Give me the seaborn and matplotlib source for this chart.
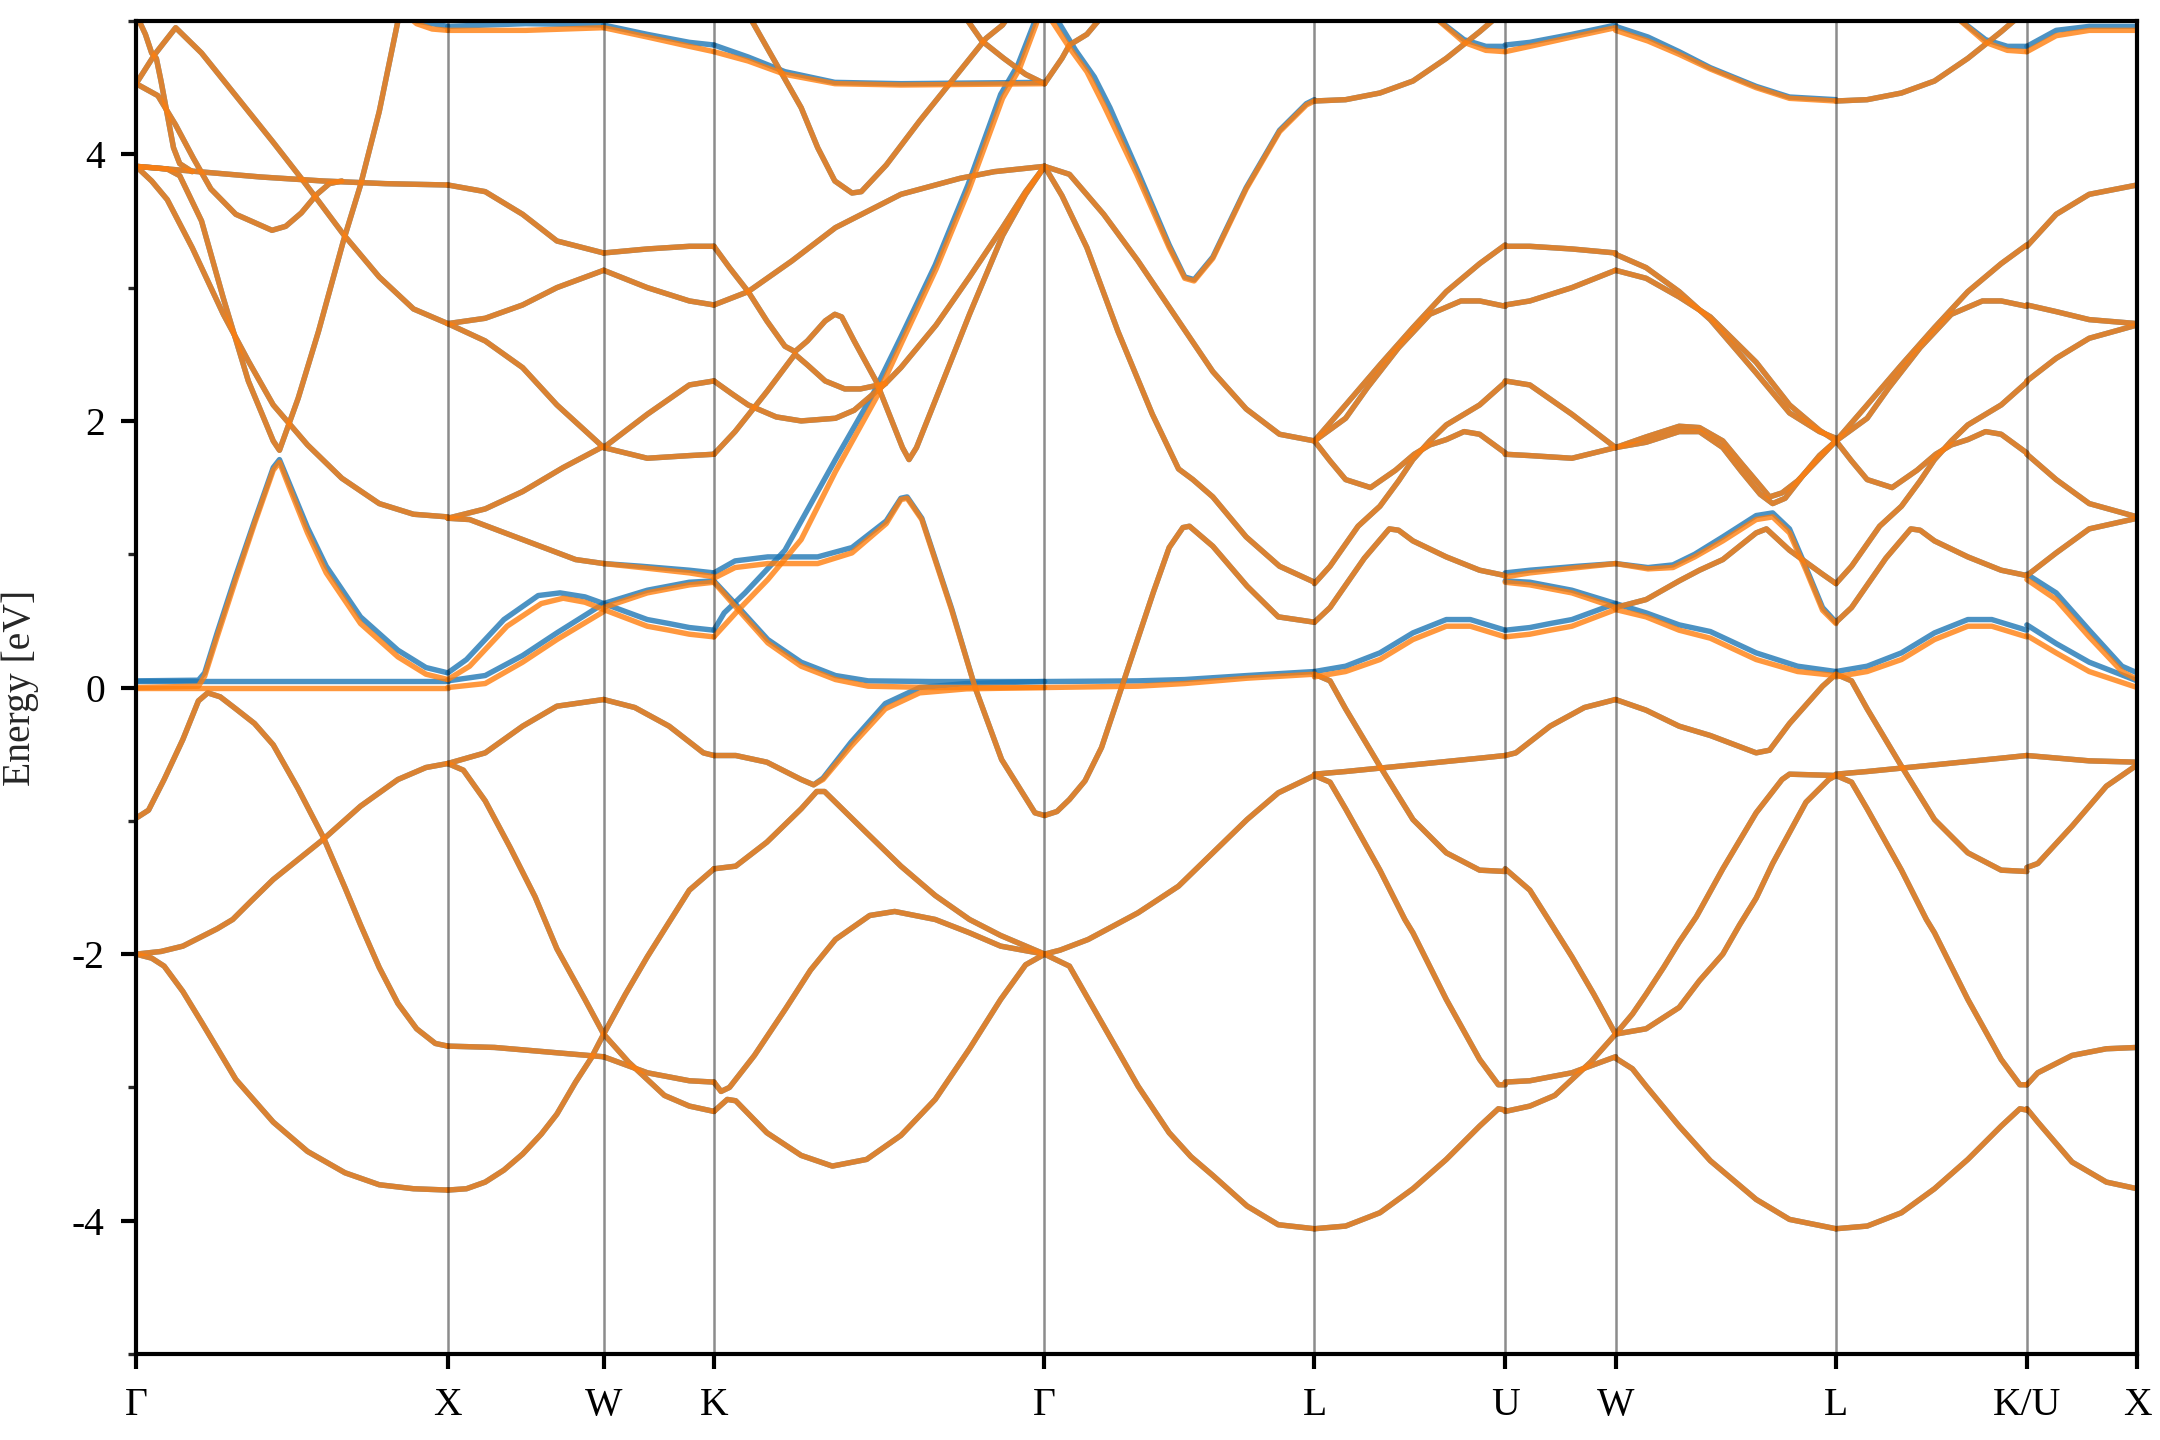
import matplotlib
matplotlib.use("Agg")
import matplotlib.pyplot as plt
import pandas as pd
import seaborn as sns

# high-symmetry points of the fcc path
kpath_labels = ["Γ", "X", "W", "K", "Γ", "L", "U", "W", "L", "K/U", "X"]
kpath_ticks = [0.0, 1.0, 1.5, 1.8536, 2.9142, 3.7802, 4.3926, 4.7462, 5.4533, 6.0657, 6.4193]

# bands per segment, (k offset from segment start, energy in eV), spin down (orange)
# blue dicts hold the spin-up bands that visibly differ
GX = {
    "c1": [(0, -2.0), (0.05, -2.03), (0.09, -2.09), (0.15, -2.28), (0.21, -2.51), (0.32, -2.94), (0.44, -3.26),
           (0.55, -3.48), (0.67, -3.64), (0.78, -3.73), (0.89, -3.76), (1.0, -3.77)],
    "c2": [(0, -2.0), (0.08, -1.98), (0.15, -1.94), (0.26, -1.81), (0.31, -1.74), (0.37, -1.6),
           (0.44, -1.44), (0.52, -1.29), (0.6, -1.14), (0.72, -0.89), (0.84, -0.69), (0.93, -0.6), (1.0, -0.57)],
    "c3": [(0, -0.98), (0.04, -0.92), (0.09, -0.69), (0.15, -0.39), (0.2, -0.1), (0.23, -0.04),
           (0.27, -0.07), (0.32, -0.16), (0.38, -0.27), (0.44, -0.43), (0.52, -0.76), (0.6, -1.12),
           (0.67, -1.5), (0.72, -1.78), (0.78, -2.1), (0.84, -2.37), (0.9, -2.56), (0.96, -2.67), (1.0, -2.69)],
    "flat": [(0, 0.0), (0.5, 0.0), (1.0, 0.0)],
    "c5": [(0, 0.0), (0.2, 0.01), (0.22, 0.085), (0.26, 0.38), (0.32, 0.81), (0.38, 1.23), (0.44, 1.63),
           (0.46, 1.69), (0.49, 1.51), (0.55, 1.16), (0.61, 0.86), (0.72, 0.48), (0.84, 0.23), (0.93, 0.1), (1.0, 0.06)],
    "c6": [(0, 3.91), (0.1, 3.89), (0.14, 3.84), (0.21, 3.5), (0.28, 2.92), (0.36, 2.3), (0.44, 1.85),
           (0.46, 1.78), (0.52, 2.17), (0.585, 2.67), (0.665, 3.35), (0.72, 3.77), (0.78, 4.32), (0.84, 5.0), (0.86, 5.15)],
    "l7": [(0, 3.91), (0.05, 3.8), (0.1, 3.66), (0.18, 3.3), (0.28, 2.8), (0.36, 2.45), (0.44, 2.12),
           (0.55, 1.82), (0.66, 1.57), (0.78, 1.38), (0.89, 1.3), (1.0, 1.28)],
    "l8": [(0, 4.53), (0.06, 4.75), (0.127, 4.95), (0.21, 4.76), (0.32, 4.44), (0.44, 4.09), (0.53, 3.82),
           (0.585, 3.65), (0.665, 3.4), (0.78, 3.08), (0.89, 2.84), (1.0, 2.73)],
    "l9": [(0, 4.53), (0.07, 4.44), (0.127, 4.22), (0.184, 3.97), (0.24, 3.74), (0.32, 3.55), (0.436, 3.43),
           (0.48, 3.46), (0.53, 3.56), (0.58, 3.7), (0.62, 3.78), (0.66, 3.8)],
    "l10": [(0, 3.91), (0.2, 3.87), (0.4, 3.83), (0.6, 3.8), (0.8, 3.78), (1.0, 3.77)],
    "l11": [(0, 5.05), (0.03, 4.9), (0.05, 4.76), (0.065, 4.72), (0.08, 4.55), (0.1, 4.3), (0.12, 4.05),
            (0.14, 3.93), (0.18, 3.87)],
    "t1": [(0.84, 5.1), (0.9, 4.98), (0.95, 4.94), (1.0, 4.93)],
}
GX_BLUE = {
    "flat": [(0, 0.05), (0.5, 0.05), (1.0, 0.05)],
    "c5": [(0, 0.05), (0.2, 0.055), (0.22, 0.11), (0.26, 0.41), (0.32, 0.84), (0.38, 1.25), (0.44, 1.65),
           (0.46, 1.71), (0.49, 1.54), (0.55, 1.2), (0.61, 0.91), (0.72, 0.53), (0.84, 0.28), (0.93, 0.15), (1.0, 0.11)],
    "t1": [(0.84, 5.1), (0.9, 5.0), (1.0, 4.96)],
}

XW = {
    "c1": [(0, -3.77), (0.06, -3.76), (0.12, -3.71), (0.18, -3.62), (0.24, -3.5), (0.3, -3.35), (0.35, -3.2),
           (0.41, -2.96), (0.46, -2.78), (0.5, -2.6)],
    "c3": [(0, -2.69), (0.15, -2.7), (0.3, -2.73), (0.45, -2.76), (0.5, -2.77)],
    "c2a": [(0, -0.57), (0.05, -0.62), (0.12, -0.85), (0.2, -1.2), (0.28, -1.57), (0.35, -1.96), (0.44, -2.34), (0.5, -2.6)],
    "c2b": [(0, -0.57), (0.06, -0.53), (0.12, -0.49), (0.24, -0.29), (0.35, -0.14), (0.5, -0.09)],
    "flat": [(0, 0.0), (0.12, 0.03), (0.24, 0.19), (0.35, 0.36), (0.5, 0.57)],
    "c5": [(0, 0.06), (0.07, 0.16), (0.19, 0.46), (0.3, 0.63), (0.37, 0.67), (0.44, 0.64), (0.5, 0.585)],
    "l7a": [(0, 1.27), (0.07, 1.26), (0.24, 1.11), (0.41, 0.96), (0.5, 0.93)],
    "l7b": [(0, 1.27), (0.12, 1.34), (0.24, 1.47), (0.37, 1.65), (0.5, 1.81)],
    "l8a": [(0, 2.73), (0.12, 2.77), (0.24, 2.87), (0.35, 3.0), (0.5, 3.13)],
    "l8b": [(0, 2.73), (0.12, 2.6), (0.24, 2.4), (0.35, 2.12), (0.5, 1.8)],
    "l10": [(0, 3.77), (0.12, 3.72), (0.24, 3.55), (0.35, 3.35), (0.5, 3.26)],
    "t1": [(0, 4.93), (0.25, 4.93), (0.5, 4.95)],
}
XW_BLUE = {
    "flat": [(0, 0.05), (0.12, 0.09), (0.24, 0.24), (0.35, 0.41), (0.5, 0.63)],
    "c5": [(0, 0.11), (0.06, 0.21), (0.18, 0.51), (0.29, 0.69), (0.36, 0.71), (0.44, 0.68), (0.5, 0.63)],
    "t1": [(0, 4.96), (0.25, 4.98), (0.5, 4.97)],
}

WK = {
    "c1": [(0, -2.6), (0.08, -2.81), (0.195, -3.06), (0.275, -3.14), (0.354, -3.18)],
    "c3": [(0, -2.77), (0.14, -2.89), (0.275, -2.95), (0.354, -2.96)],
    "c2a": [(0, -2.6), (0.07, -2.3), (0.14, -2.02), (0.21, -1.76), (0.275, -1.52), (0.354, -1.36)],
    "c2b": [(0, -0.09), (0.1, -0.15), (0.21, -0.29), (0.32, -0.49), (0.354, -0.51)],
    "d": [(0, 0.585), (0.14, 0.46), (0.21, 0.43), (0.275, 0.4), (0.354, 0.38)],
    "r": [(0, 0.6), (0.14, 0.71), (0.275, 0.77), (0.354, 0.79)],
    "l7a": [(0, 0.93), (0.12, 0.9), (0.275, 0.86), (0.354, 0.83)],
    "w1": [(0, 1.8), (0.14, 1.72), (0.275, 1.74), (0.354, 1.75)],
    "w2": [(0, 1.8), (0.14, 2.05), (0.275, 2.27), (0.354, 2.3)],
    "w3": [(0, 3.13), (0.14, 3.0), (0.275, 2.9), (0.354, 2.87)],
    "l10": [(0, 3.26), (0.14, 3.29), (0.275, 3.31), (0.354, 3.31)],
    "t1": [(0, 4.95), (0.14, 4.88), (0.275, 4.81), (0.354, 4.77)],
}
WK_BLUE = {
    "d": [(0, 0.63), (0.14, 0.51), (0.21, 0.48), (0.275, 0.45), (0.354, 0.43)],
    "r": [(0, 0.63), (0.14, 0.73), (0.275, 0.79), (0.354, 0.8)],
    "l7a": [(0, 0.93), (0.12, 0.91), (0.275, 0.88), (0.354, 0.86)],
    "t1": [(0, 4.97), (0.14, 4.9), (0.275, 4.84), (0.354, 4.82)],
}

KG = {
    "c1": [(0, -3.18), (0.043, -3.09), (0.07, -3.1), (0.12, -3.22), (0.17, -3.34), (0.28, -3.51), (0.38, -3.59),
           (0.49, -3.54), (0.6, -3.36), (0.71, -3.09), (0.82, -2.71), (0.92, -2.34), (1.0, -2.08), (1.061, -2.0)],
    "c1b": [(0, -2.96), (0.023, -3.03), (0.05, -3.0), (0.13, -2.76), (0.23, -2.41), (0.31, -2.12), (0.39, -1.89),
            (0.5, -1.71), (0.58, -1.68), (0.71, -1.74), (0.82, -1.84), (0.92, -1.94), (1.061, -2.0)],
    "c2a": [(0, -1.36), (0.07, -1.34), (0.17, -1.16), (0.28, -0.91), (0.33, -0.78), (0.355, -0.78), (0.49, -1.09),
            (0.6, -1.34), (0.71, -1.56), (0.82, -1.74), (0.92, -1.86), (1.061, -2.0)],
    "c2b": [(0, -0.51), (0.07, -0.51), (0.17, -0.56), (0.28, -0.69), (0.32, -0.73), (0.35, -0.69), (0.44, -0.44),
            (0.55, -0.16), (0.66, -0.04), (0.81, -0.01), (1.061, 0.0)],
    "d": [(0, 0.38), (0.078, 0.58), (0.173, 0.81), (0.28, 1.11), (0.39, 1.62), (0.52, 2.17), (0.605, 2.6),
          (0.713, 3.14), (0.819, 3.74), (0.926, 4.42), (0.98, 4.64), (1.033, 4.97), (1.05, 5.1)],
    "r": [(0, 0.79), (0.068, 0.61), (0.173, 0.335), (0.28, 0.16), (0.39, 0.06), (0.495, 0.01), (0.7, 0.0), (1.061, 0.0)],
    "l7a": [(0, 0.82), (0.068, 0.9), (0.173, 0.93), (0.333, 0.93), (0.443, 1.01), (0.553, 1.23), (0.6, 1.41),
            (0.62, 1.42), (0.667, 1.26), (0.763, 0.58), (0.838, 0.0), (0.923, -0.54), (1.03, -0.94), (1.061, -0.96)],
    "ua": [(0, 2.3), (0.06, 2.2), (0.11, 2.12), (0.2, 2.03), (0.28, 2.0), (0.39, 2.02), (0.45, 2.08), (0.495, 2.17),
           (0.55, 2.28), (0.6, 2.4), (0.713, 2.72), (0.82, 3.08), (0.926, 3.45), (1.0, 3.72), (1.061, 3.91)],
    "ub": [(0, 1.75), (0.068, 1.92), (0.17, 2.22), (0.26, 2.5), (0.3, 2.42), (0.357, 2.3), (0.42, 2.24),
           (0.47, 2.24), (0.55, 2.28)],
    "uc": [(0, 3.31), (0.05, 3.15), (0.11, 2.97), (0.17, 2.75), (0.228, 2.56), (0.26, 2.52), (0.3, 2.6),
           (0.357, 2.75), (0.388, 2.8), (0.41, 2.78), (0.45, 2.6), (0.52, 2.3), (0.605, 1.8), (0.626, 1.71),
           (0.65, 1.8), (0.713, 2.17), (0.82, 2.8), (0.926, 3.39), (1.0, 3.7), (1.061, 3.91)],
    "u3": [(0, 2.87), (0.11, 2.97), (0.25, 3.2), (0.39, 3.45), (0.6, 3.7), (0.79, 3.82), (0.9, 3.87), (1.061, 3.91)],
    "t1": [(0, 4.77), (0.11, 4.7), (0.228, 4.6), (0.388, 4.53), (0.6, 4.52), (1.061, 4.53)],
    "tmin": [(0.11, 5.05), (0.173, 4.79), (0.28, 4.35), (0.333, 4.05), (0.388, 3.8), (0.443, 3.71), (0.473, 3.72),
             (0.553, 3.92), (0.66, 4.25), (0.763, 4.55), (0.873, 4.87), (0.926, 4.97), (0.95, 5.05)],
    "ttop": [(0.8, 5.05), (0.86, 4.85), (0.93, 4.72), (1.0, 4.6), (1.061, 4.53)],
}
KG_BLUE = {
    "c2b": [(0, -0.51), (0.07, -0.51), (0.17, -0.56), (0.28, -0.69), (0.32, -0.73), (0.35, -0.68), (0.44, -0.41),
            (0.55, -0.12), (0.66, 0.0), (0.81, 0.03), (1.061, 0.045)],
    "d": [(0, 0.43), (0.033, 0.56), (0.1, 0.71), (0.228, 1.03), (0.39, 1.71), (0.51, 2.2), (0.6, 2.63),
          (0.71, 3.17), (0.815, 3.77), (0.92, 4.45), (0.975, 4.67), (1.03, 5.0), (1.05, 5.1)],
    "r": [(0, 0.8), (0.068, 0.63), (0.173, 0.36), (0.28, 0.19), (0.39, 0.09), (0.495, 0.05), (0.7, 0.045), (1.061, 0.045)],
    "l7a": [(0, 0.86), (0.068, 0.95), (0.173, 0.98), (0.333, 0.98), (0.443, 1.05), (0.553, 1.25), (0.6, 1.42),
            (0.62, 1.43), (0.667, 1.27), (0.763, 0.59), (0.838, 0.0), (0.923, -0.54), (1.03, -0.94), (1.061, -0.96)],
    "t1": [(0, 4.82), (0.11, 4.73), (0.228, 4.62), (0.388, 4.54), (0.6, 4.53), (1.061, 4.54)],
}

GL = {
    "l1": [(0, -2.0), (0.08, -2.09), (0.19, -2.54), (0.3, -2.99), (0.4, -3.34), (0.47, -3.52), (0.54, -3.66),
           (0.65, -3.89), (0.75, -4.03), (0.866, -4.06)],
    "l3": [(0, -2.0), (0.05, -1.97), (0.14, -1.89), (0.3, -1.69), (0.43, -1.49), (0.54, -1.24), (0.65, -0.99),
           (0.75, -0.79), (0.866, -0.66)],
    "c3": [(0, -0.96), (0.04, -0.93), (0.08, -0.84), (0.13, -0.7), (0.183, -0.45), (0.226, -0.15), (0.29, 0.3),
           (0.35, 0.72), (0.4, 1.05), (0.444, 1.2), (0.465, 1.21), (0.54, 1.06), (0.65, 0.76), (0.75, 0.53), (0.866, 0.49)],
    "flat": [(0, 0.0), (0.3, 0.01), (0.45, 0.03), (0.65, 0.07), (0.866, 0.1)],
    "b": [(0, 3.91), (0.056, 3.69), (0.136, 3.3), (0.236, 2.67), (0.346, 2.05), (0.43, 1.64), (0.476, 1.56),
          (0.54, 1.43), (0.647, 1.13), (0.754, 0.91), (0.866, 0.79)],
    "a": [(0, 3.91), (0.08, 3.85), (0.19, 3.55), (0.3, 3.2), (0.43, 2.75), (0.54, 2.37), (0.647, 2.09),
          (0.754, 1.9), (0.866, 1.85)],
    "top": [(0.01, 5.05), (0.08, 4.8), (0.136, 4.62), (0.19, 4.37), (0.296, 3.85), (0.4, 3.3), (0.45, 3.07),
            (0.48, 3.05), (0.54, 3.22), (0.647, 3.74), (0.754, 4.17), (0.84, 4.37), (0.866, 4.4)],
    "g45": [(0, 4.53), (0.056, 4.72), (0.08, 4.82), (0.136, 4.9), (0.19, 5.05)],
}
GL_BLUE = {
    "flat": [(0, 0.045), (0.3, 0.05), (0.45, 0.06), (0.65, 0.09), (0.866, 0.12)],
    "top": [(0.03, 5.05), (0.1, 4.78), (0.16, 4.58), (0.21, 4.35), (0.3, 3.87), (0.4, 3.32), (0.45, 3.08),
            (0.48, 3.06), (0.54, 3.23), (0.647, 3.75), (0.754, 4.18), (0.84, 4.38), (0.866, 4.41)],
}

# L-U and L-K are equivalent directions and the picture shows the same bands on both
LU = {
    "low": [(0, -4.06), (0.1, -4.04), (0.21, -3.94), (0.316, -3.76), (0.423, -3.54), (0.53, -3.29), (0.59, -3.16), (0.612, -3.17)],
    "p": [(0, -0.65), (0.1, -0.63), (0.316, -0.58), (0.53, -0.53), (0.612, -0.51)],
    "q": [(0, -0.66), (0.05, -0.71), (0.1, -0.91), (0.21, -1.37), (0.29, -1.74), (0.316, -1.84), (0.423, -2.34),
          (0.53, -2.79), (0.59, -2.98), (0.612, -2.98)],
    "ld": [(0, 0.1), (0.05, 0.05), (0.1, -0.16), (0.21, -0.59), (0.316, -0.99), (0.423, -1.24), (0.53, -1.37), (0.612, -1.38)],
    "lu": [(0, 0.08), (0.1, 0.12), (0.21, 0.21), (0.316, 0.36), (0.423, 0.46), (0.5, 0.46), (0.612, 0.38)],
    "lg": [(0, 0.49), (0.05, 0.6), (0.16, 0.97), (0.24, 1.19), (0.27, 1.18), (0.316, 1.1), (0.423, 0.98), (0.53, 0.88), (0.612, 0.84)],
    "lb": [(0, 0.78), (0.05, 0.91), (0.14, 1.21), (0.21, 1.36), (0.27, 1.55), (0.316, 1.71), (0.37, 1.85),
           (0.423, 1.97), (0.53, 2.12), (0.612, 2.29)],
    "la": [(0, 1.85), (0.05, 1.7), (0.1, 1.56), (0.18, 1.5), (0.26, 1.63), (0.32, 1.75), (0.37, 1.82), (0.423, 1.86),
           (0.48, 1.92), (0.53, 1.9), (0.612, 1.76)],
    "lu1": [(0, 1.85), (0.1, 2.12), (0.21, 2.42), (0.316, 2.7), (0.423, 2.97), (0.53, 3.18), (0.612, 3.32)],
    "lu2": [(0, 1.85), (0.1, 2.02), (0.17, 2.25), (0.27, 2.55), (0.37, 2.8), (0.47, 2.9), (0.53, 2.9), (0.612, 2.86)],
    "top1": [(0, 4.4), (0.1, 4.41), (0.21, 4.46), (0.316, 4.55), (0.423, 4.72), (0.53, 4.92), (0.59, 5.04)],
    "top2": [(0.38, 5.04), (0.48, 4.84), (0.55, 4.78), (0.612, 4.77)],
}
LU_BLUE = {
    "lu": [(0, 0.12), (0.1, 0.16), (0.21, 0.26), (0.316, 0.41), (0.423, 0.51), (0.5, 0.51), (0.612, 0.43)],
    "top2": [(0.38, 5.04), (0.48, 4.86), (0.55, 4.81), (0.612, 4.81)],
}

WL = {
    "wd": [(0, -2.78), (0.054, -2.86), (0.098, -2.99), (0.204, -3.29), (0.304, -3.55), (0.451, -3.84), (0.558, -3.99), (0.707, -4.06)],
    "p": [(0, -2.6), (0.054, -2.45), (0.098, -2.3), (0.154, -2.1), (0.204, -1.91), (0.259, -1.72), (0.344, -1.36),
          (0.451, -0.94), (0.534, -0.69), (0.558, -0.65), (0.707, -0.66)],
    "q": [(0, -2.6), (0.098, -2.56), (0.204, -2.4), (0.269, -2.2), (0.344, -2.0), (0.398, -1.78), (0.451, -1.58),
          (0.504, -1.32), (0.611, -0.86), (0.684, -0.69), (0.707, -0.66)],
    "wm": [(0, -0.09), (0.098, -0.17), (0.204, -0.29), (0.304, -0.36), (0.451, -0.49), (0.494, -0.47), (0.558, -0.27),
           (0.664, 0.01), (0.707, 0.1)],
    "wf": [(0, 0.585), (0.098, 0.53), (0.204, 0.43), (0.304, 0.37), (0.451, 0.21), (0.584, 0.12), (0.707, 0.09)],
    "wr2": [(0, 0.6), (0.098, 0.66), (0.204, 0.8), (0.269, 0.88), (0.344, 0.96), (0.451, 1.16), (0.484, 1.19),
            (0.558, 1.03), (0.664, 0.85), (0.707, 0.78)],
    "wr1": [(0, 0.93), (0.104, 0.89), (0.184, 0.9), (0.254, 0.98), (0.344, 1.1), (0.451, 1.26), (0.504, 1.28),
            (0.558, 1.16), (0.611, 0.88), (0.664, 0.58), (0.707, 0.48)],
    "wb": [(0, 1.8), (0.098, 1.88), (0.204, 1.96), (0.269, 1.95), (0.344, 1.85), (0.404, 1.68), (0.451, 1.55),
           (0.494, 1.43), (0.534, 1.46), (0.584, 1.55), (0.654, 1.72), (0.707, 1.85)],
    "wb2": [(0, 1.8), (0.098, 1.84), (0.204, 1.92), (0.269, 1.92), (0.344, 1.8), (0.404, 1.62), (0.464, 1.45),
            (0.504, 1.38), (0.544, 1.42), (0.604, 1.6), (0.654, 1.74), (0.707, 1.85)],
    "wd1": [(0, 3.25), (0.098, 3.15), (0.204, 2.97), (0.304, 2.76), (0.451, 2.36), (0.558, 2.06), (0.654, 1.92), (0.707, 1.87)],
    "wd2": [(0, 3.13), (0.098, 3.07), (0.204, 2.93), (0.304, 2.78), (0.451, 2.44), (0.558, 2.12), (0.654, 1.93), (0.707, 1.85)],
    "top": [(0, 4.93), (0.104, 4.85), (0.204, 4.75), (0.304, 4.64), (0.451, 4.5), (0.558, 4.42), (0.707, 4.4)],
}
WL_BLUE = {
    "wf": [(0, 0.63), (0.098, 0.56), (0.204, 0.47), (0.304, 0.42), (0.451, 0.26), (0.584, 0.16), (0.707, 0.12)],
    "wr1": [(0, 0.93), (0.104, 0.9), (0.184, 0.92), (0.254, 1.0), (0.344, 1.13), (0.451, 1.29), (0.504, 1.31),
            (0.558, 1.19), (0.611, 0.9), (0.664, 0.6), (0.707, 0.49)],
    "top": [(0, 4.96), (0.104, 4.88), (0.204, 4.77), (0.304, 4.65), (0.451, 4.51), (0.558, 4.43), (0.707, 4.41)],
}

UX = {
    "low": [(0, -3.16), (0.035, -3.26), (0.145, -3.56), (0.255, -3.71), (0.354, -3.76)],
    "q": [(0, -2.98), (0.035, -2.89), (0.145, -2.76), (0.255, -2.71), (0.354, -2.7)],
    "ld": [(0, -1.35), (0.035, -1.32), (0.145, -1.04), (0.255, -0.74), (0.354, -0.58)],
    "p": [(0, -0.51), (0.2, -0.55), (0.354, -0.56)],
    "a": [(0, 0.39), (0.094, 0.26), (0.2, 0.12), (0.354, 0.0)],
    "b": [(0, 0.81), (0.094, 0.66), (0.2, 0.38), (0.305, 0.12), (0.354, 0.06)],
    "c": [(0, 0.84), (0.094, 1.01), (0.2, 1.19), (0.354, 1.27)],
    "d": [(0, 1.75), (0.094, 1.56), (0.2, 1.38), (0.354, 1.28)],
    "e": [(0, 2.3), (0.094, 2.47), (0.2, 2.62), (0.354, 2.72)],
    "f": [(0, 2.87), (0.094, 2.82), (0.2, 2.76), (0.354, 2.73)],
    "g": [(0, 3.31), (0.094, 3.55), (0.2, 3.7), (0.354, 3.77)],
    "top": [(0, 4.77), (0.094, 4.89), (0.2, 4.93), (0.354, 4.93)],
}
UX_BLUE = {
    "a": [(0, 0.47), (0.094, 0.33), (0.2, 0.19), (0.354, 0.05)],
    "b": [(0, 0.85), (0.094, 0.71), (0.2, 0.43), (0.305, 0.16), (0.354, 0.11)],
    "top": [(0, 4.81), (0.094, 4.93), (0.2, 4.96), (0.354, 4.96)],
}

# segment data in path order; the U-W branch is the W-K branch read backwards
segments = [
    ("gx", GX, GX_BLUE, False),
    ("xw", XW, XW_BLUE, False),
    ("wk", WK, WK_BLUE, False),
    ("kg", KG, KG_BLUE, False),
    ("gl", GL, GL_BLUE, False),
    ("lu", LU, LU_BLUE, False),
    ("uw", WK, WK_BLUE, True),
    ("wl", WL, WL_BLUE, False),
    ("lk", LU, LU_BLUE, False),
    ("ux", UX, UX_BLUE, False),
]

rows = []
for i, (name, bands, blue, backwards) in enumerate(segments):
    start, end = kpath_ticks[i], kpath_ticks[i + 1]
    for band, pts in bands.items():
        for spin in ("up", "down"):
            use = blue.get(band, pts) if spin == "up" else pts
            for dk, e in use:
                k = end - dk if backwards else start + dk
                rows.append({"k": k, "E": e, "spin": spin, "line": f"{name}-{band}"})
df = pd.DataFrame(rows)

sns.set_style("ticks")
plt.rcParams["font.family"] = ["Liberation Serif", "DejaVu Serif"]
plt.rcParams["axes.unicode_minus"] = False
plt.rcParams["axes.edgecolor"] = "black"
plt.rcParams["axes.linewidth"] = 1.0

fig = plt.figure(figsize=(7.2, 4.8), dpi=300)
ax = fig.add_axes([0.063, 0.0597, 0.9264, 0.9257])

sns.lineplot(data=df, x="k", y="E", hue="spin", hue_order=["up", "down"],
             palette={"up": "#1f77b4", "down": "#ff7f0e"}, units="line",
             estimator=None, sort=False, lw=1.3, alpha=0.8, legend=False, ax=ax)

for kx in kpath_ticks[1:-1]:
    ax.axvline(kx, color="black", lw=0.6, alpha=0.45, zorder=3)

ax.set_xlim(kpath_ticks[0], kpath_ticks[-1])
ax.set_ylim(-5, 5)
ax.set_xticks(kpath_ticks)
ax.set_xticklabels(kpath_labels)
ax.set_yticks([-4, -2, 0, 2, 4])
ax.set_yticks([-5, -3, -1, 1, 3, 5], minor=True)
ax.tick_params(axis="both", which="major", direction="out", length=3.5, width=1.0, labelsize=9.5, colors="black")
ax.tick_params(axis="x", which="major", pad=4.5)
ax.tick_params(axis="y", which="major", pad=4)
ax.tick_params(axis="y", which="minor", direction="out", length=2, width=0.8)
ax.set_xlabel("")
ax.set_ylabel("Energy [eV]", fontsize=9.5, labelpad=8)
for s in ax.spines.values():
    s.set_visible(True)

fig.savefig("out.png", dpi=300)
